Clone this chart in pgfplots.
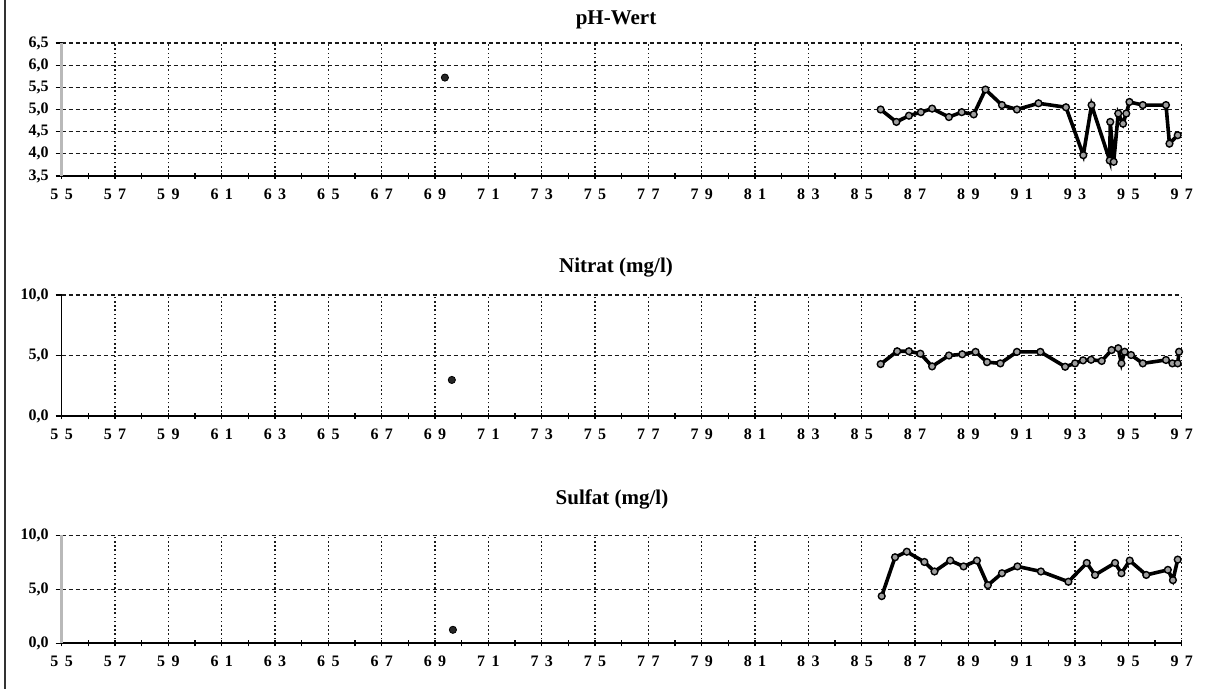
\documentclass[border=0pt]{standalone}
\usepackage{fontspec}
\setmainfont{Liberation Serif}
\usepackage{pgfplots}
\pgfplotsset{compat=1.18}

% spaced two-digit year labels, as on the old printout
\newcommand{\dg}[2]{#1\hspace{0.4em}#2}

\pgfplotsset{
  panel/.style={
    scale only axis, width=560pt, anchor=south west,
    xmin=55, xmax=97, xtick={55,57,...,97},
    xticklabels={\dg55,\dg57,\dg59,\dg61,\dg63,\dg65,\dg67,\dg69,\dg71,\dg73,\dg75,
                 \dg77,\dg79,\dg81,\dg83,\dg85,\dg87,\dg89,\dg91,\dg93,\dg95,\dg97},
    minor x tick num=1,
    axis x line=bottom, axis y line=left, axis line style={-},
    x axis line style={black, line width=1pt},
    xmajorgrids, ymajorgrids,
    x grid style={black!90, line width=0.6pt, dash pattern=on 0.8pt off 1.3pt},
    y grid style={black!90, line width=0.6pt, dash pattern=on 2pt off 1.5pt},
    tick style={black, line width=0.6pt},
    xtick align=center, ytick align=outside,
    major tick length=3pt, minor tick length=3pt,
    ticklabel style={font=\bfseries\fontsize{8}{9}\selectfont},
    xticklabel style={yshift=-1pt, text height=5.6pt, text depth=0pt, anchor=north},
    clip=false,
  },
  series/.style={black, line width=1.8pt, mark=*, mark size=1.7pt,
    mark options={fill=gray!75, draw=black, line width=0.7pt}},
  single/.style={only marks, mark=*, mark size=1.8pt,
    mark options={fill=black!85, draw=black}},
}

\begin{document}
\begin{tikzpicture}
\path[use as bounding box] (0,0) rectangle (609pt,-344.5pt);
\draw[black!80, line width=1.2pt] (2.5pt,0) -- (2.5pt,-344.5pt);

\node[font=\bfseries\fontsize{10.5}{12}\selectfont] at (308pt,-10pt) {pH-Wert};
\node[font=\bfseries\fontsize{10.5}{12}\selectfont] at (308pt,-134pt) {Nitrat (mg/l)};
\node[font=\bfseries\fontsize{10.5}{12}\selectfont] at (306pt,-249.5pt) {Sulfat (mg/l)};

% pH
\begin{axis}[panel, at={(30.85pt,-88pt)}, height=66.5pt,
  ymin=3.5, ymax=6.5, ytick={3.5,4,...,6.5},
  yticklabels={{3,5},{4,0},{4,5},{5,0},{5,5},{6,0},{6,5}},
  y axis line style={gray!55, line width=1.3pt}]
\addplot[single] coordinates {(69.37,5.72)};
\addplot[series] coordinates {
 (85.71,5.00) (86.30,4.72) (86.77,4.86) (87.22,4.94) (87.64,5.02)
 (88.27,4.83) (88.75,4.94) (89.20,4.89) (89.64,5.45) (90.26,5.10)
 (90.82,5.00) (91.63,5.14) (92.66,5.05) (93.31,3.97) (93.62,5.10)
 (94.30,3.85) (94.32,4.72) (94.45,3.82) (94.62,4.91) (94.80,4.68)
 (94.92,4.91) (95.04,5.17) (95.54,5.10) (96.41,5.10) (96.54,4.23)
 (96.85,4.42)};
\end{axis}

% Nitrat
\begin{axis}[panel, at={(30.85pt,-208pt)}, height=60.5pt,
  ymin=0, ymax=10, ytick={0,5,10},
  yticklabels={{0,0},{5,0},{10,0}},
  y axis line style={black, line width=0.6pt}]
\addplot[single] coordinates {(69.63,2.98)};
\addplot[series] coordinates {
 (85.71,4.29) (86.33,5.35) (86.77,5.35) (87.20,5.15) (87.64,4.10)
 (88.27,5.00) (88.77,5.10) (89.27,5.30) (89.70,4.45) (90.20,4.35)
 (90.82,5.30) (91.70,5.30) (92.63,4.07) (93.00,4.35) (93.30,4.60)
 (93.60,4.65) (94.00,4.55) (94.37,5.45) (94.62,5.60) (94.74,4.35)
 (94.86,5.31) (95.10,5.04) (95.54,4.35) (96.41,4.63) (96.65,4.35)
 (96.85,4.35) (96.90,5.31)};
\end{axis}

% Sulfat
\begin{axis}[panel, at={(30.85pt,-321.65pt)}, height=54pt,
  ymin=0, ymax=10, ytick={0,5,10},
  yticklabels={{0,0},{5,0},{10,0}},
  y axis line style={gray!55, line width=1.3pt}]
\addplot[single] coordinates {(69.67,1.25)};
\addplot[series] coordinates {
 (85.75,4.37) (86.25,7.97) (86.69,8.48) (87.35,7.53) (87.73,6.65)
 (88.32,7.66) (88.82,7.12) (89.32,7.66) (89.73,5.38) (90.26,6.49)
 (90.84,7.12) (91.72,6.65) (92.75,5.70) (93.44,7.44) (93.75,6.33)
 (94.50,7.44) (94.74,6.49) (95.05,7.66) (95.67,6.33) (96.48,6.80)
 (96.67,5.85) (96.85,7.75)};
\end{axis}
\end{tikzpicture}
\end{document}
